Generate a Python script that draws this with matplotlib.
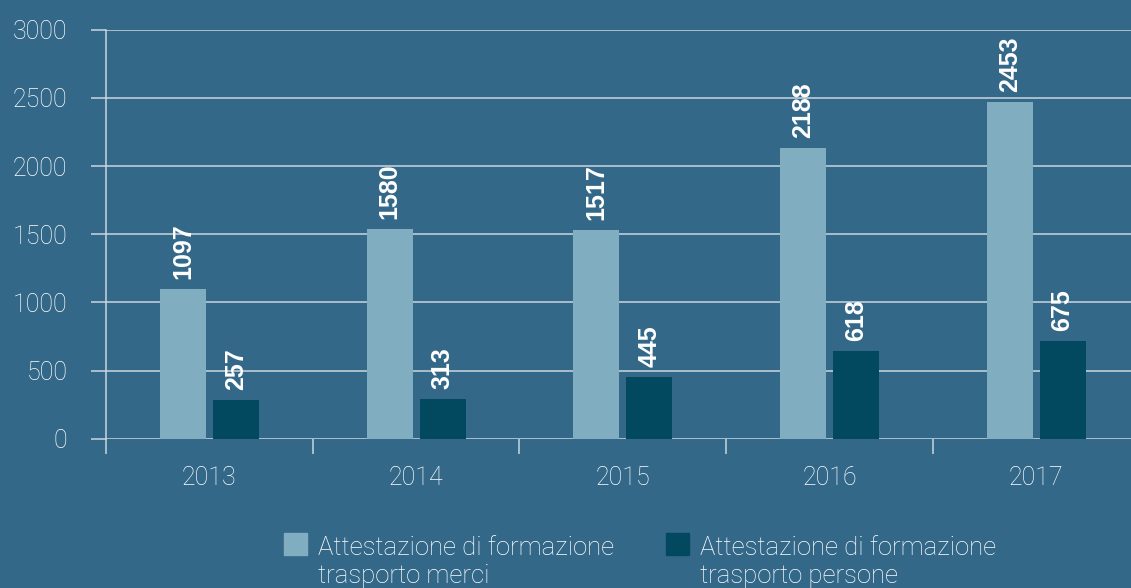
import matplotlib.pyplot as plt
from matplotlib.patches import Rectangle
import numpy as np

# data (bar heights as drawn, labels as printed)
years = ["2013", "2014", "2015", "2016", "2017"]
merci_heights = [1098, 1538, 1531, 2132, 2470]
persone_heights = [284, 291, 452, 643, 717]
merci_labels = ["1097", "1580", "1517", "2188", "2453"]
persone_labels = ["257", "313", "445", "618", "675"]
series_names = [
    "Attestazione di formazione\ntrasporto merci",
    "Attestazione di formazione\ntrasporto persone",
]

BG = "#346889"
LIGHT = "#80adbf"
DARK = "#02495f"
GRID = "#c9d6de"
FONT = ["Roboto", "DejaVu Sans"]

plt.rcParams["font.family"] = FONT

fig = plt.figure(figsize=(11.31, 5.88), dpi=100, facecolor=BG)
W, H = 1131, 588
ax = fig.add_axes([106 / W, (H - 438.7) / H, 5 * 206.7 / W, 409 / H])
ax.set_facecolor(BG)

x = np.arange(len(years))
bw = 0.2225
off = 0.128
bars1 = ax.bar(x - off, merci_heights, bw, color=LIGHT, zorder=3)
bars2 = ax.bar(x + off, persone_heights, bw, color=DARK, zorder=3)

for bars, labels in ((bars1, merci_labels), (bars2, persone_labels)):
    for b, lab in zip(bars, labels):
        ax.annotate(lab, (b.get_x() + b.get_width() / 2, b.get_height()),
                    xytext=(0, 7), textcoords="offset points",
                    ha="center", va="bottom", rotation=90,
                    color="white", fontsize=18, fontweight="bold",
                    family=["Liberation Sans", "DejaVu Sans"], zorder=4)

ax.set_xlim(-0.5, len(years) - 0.5)
ax.set_ylim(0, 3000)
ax.set_yticks(np.arange(0, 3001, 500))
ax.yaxis.grid(True, color=GRID, linewidth=1.1, zorder=1)
ax.set_axisbelow(True)

# category boundaries as major ticks, year names on minor ticks
ax.set_xticks(np.arange(-0.5, len(years)))
ax.set_xticklabels([])
ax.set_xticks(x, minor=True)
ax.set_xticklabels(years, minor=True)
ax.tick_params(axis="x", which="major", direction="out", length=10.8,
               width=1.1, color=GRID)
ax.tick_params(axis="x", which="minor", length=0, pad=20,
               labelsize=18, labelcolor="white")
ax.tick_params(axis="y", direction="out", length=10.8, width=1.1,
               color=GRID, pad=17, labelsize=18, labelcolor="white")
for lab in ax.get_xticklabels(minor=True) + ax.get_yticklabels():
    lab.set_fontweight("light")

for side in ("top", "right", "bottom"):
    ax.spines[side].set_visible(False)
ax.spines["left"].set_color(GRID)
ax.spines["left"].set_linewidth(1.1)

# legend drawn by hand so the square sits beside the first line
for px, col, name in ((284, LIGHT, series_names[0]), (666, DARK, series_names[1])):
    fig.patches.append(Rectangle((px / W, (H - 555) / H), 23 / W, 22 / H,
                                 transform=fig.transFigure, color=col))
    fig.text((px + 34) / W, (H - 562) / H, name, ha="left", va="center",
             fontsize=18.5, color="white", fontweight="light", linespacing=1.25)

fig.savefig("out.png", dpi=100, facecolor=BG)
